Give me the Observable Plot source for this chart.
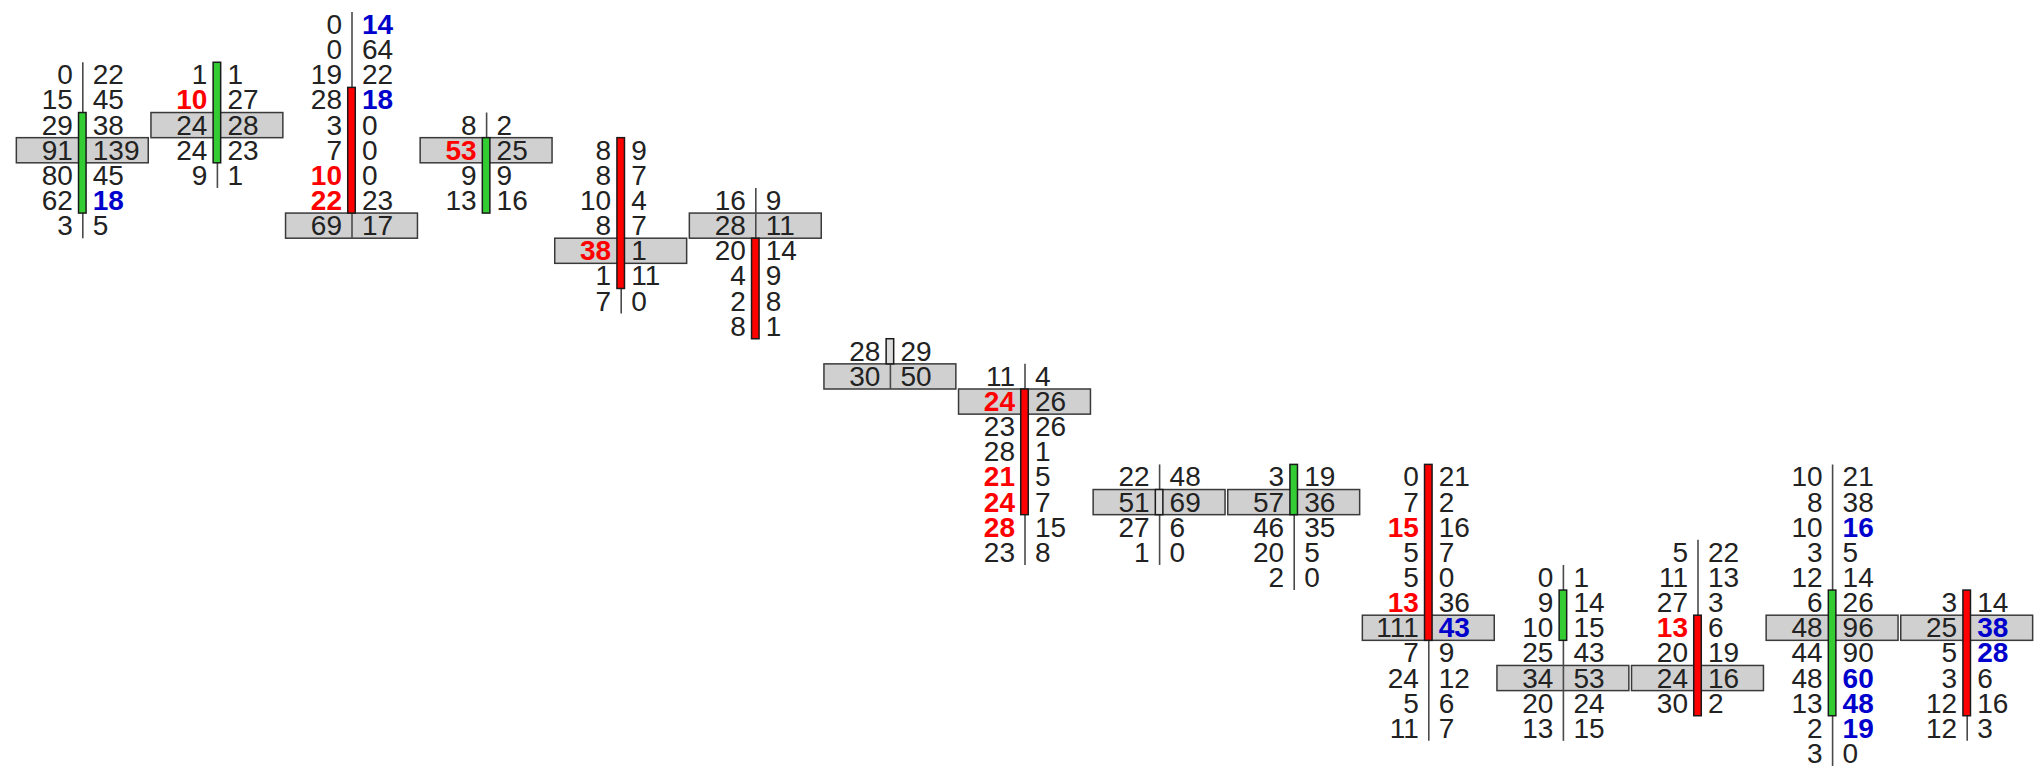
<!DOCTYPE html>
<html>
<head>
<meta charset="utf-8">
<script src="https://cdn.jsdelivr.net/npm/d3@7"></script>
<script src="https://cdn.jsdelivr.net/npm/@observablehq/plot@0.6"></script>
<style>
  html, body { margin: 0; padding: 0; background: #ffffff; }
  #chart svg { display: block; }
</style>
</head>
<body>
<div id="chart"></div>
<script>
// ---- Data (price in ticks, higher = up) ----
const bars = [1, 2, 3, 4, 5, 6, 7, 8, 9, 10, 11, 12, 13, 14, 15];
const highTick  = [27, 27, 29, 25, 24, 22, 16, 15, 11, 11, 11, 7, 8, 11, 6];
const lowTick   = [21, 23, 21, 22, 18, 17, 15, 8, 8, 7, 1, 1, 2, 0, 1];
const openTick  = [22, 24, 26, 22, 24, 20, 16, 14, 10, 10, 11, 5, 5, 2, 6];
const closeTick = [25, 27, 22, 24, 19, 17, 16, 10, 10, 11, 5, 6, 2, 6, 2];
const pocTick   = [24, 25, 21, 24, 20, 21, 15, 14, 10, 10, 5, 3, 3, 5, 5];

// volumes listed from high price down to low price
const bidVolume = [
  [0, 15, 29, 91, 80, 62, 3],
  [1, 10, 24, 24, 9],
  [0, 0, 19, 28, 3, 7, 10, 22, 69],
  [8, 53, 9, 13],
  [8, 8, 10, 8, 38, 1, 7],
  [16, 28, 20, 4, 2, 8],
  [28, 30],
  [11, 24, 23, 28, 21, 24, 28, 23],
  [22, 51, 27, 1],
  [3, 57, 46, 20, 2],
  [0, 7, 15, 5, 5, 13, 111, 7, 24, 5, 11],
  [0, 9, 10, 25, 34, 20, 13],
  [5, 11, 27, 13, 20, 24, 30],
  [10, 8, 10, 3, 12, 6, 48, 44, 48, 13, 2, 3],
  [3, 25, 5, 3, 12, 12]
];
const askVolume = [
  [22, 45, 38, 139, 45, 18, 5],
  [1, 27, 28, 23, 1],
  [14, 64, 22, 18, 0, 0, 0, 23, 17],
  [2, 25, 9, 16],
  [9, 7, 4, 7, 1, 11, 0],
  [9, 11, 14, 9, 8, 1],
  [29, 50],
  [4, 26, 26, 1, 5, 7, 15, 8],
  [48, 69, 6, 0],
  [19, 36, 35, 5, 0],
  [21, 2, 16, 7, 0, 36, 43, 9, 12, 6, 7],
  [1, 14, 15, 43, 53, 24, 15],
  [22, 13, 3, 6, 19, 16, 2],
  [21, 38, 16, 5, 14, 26, 96, 90, 60, 48, 19, 0],
  [14, 38, 28, 6, 16, 3]
];
// imbalance price ticks per bar
const bidImbalance = [[], [26], [23, 22], [24], [20], [], [], [14, 11, 10, 9], [], [], [9, 6], [], [5], [], []];
const askImbalance = [[22], [], [29, 26], [], [], [], [], [], [], [], [5], [], [], [9, 3, 2, 1], [5, 4]];

// ---- Derived tables ----
const candles = bars.map((b, i) => ({
  bar: b, high: highTick[i], low: lowTick[i], open: openTick[i], close: closeTick[i], poc: pocTick[i],
  dir: closeTick[i] > openTick[i] ? "up" : closeTick[i] < openTick[i] ? "down" : "flat"
}));
const cells = [];
bars.forEach((b, i) => {
  bidVolume[i].forEach((v, k) => {
    const p = highTick[i] - k;
    cells.push({
      bar: b, price: p, bid: v, ask: askVolume[i][k],
      bidImb: bidImbalance[i].includes(p), askImb: askImbalance[i].includes(p)
    });
  });
});

const bodyColor = {up: "#33cc33", down: "#ff0000", flat: "#dcdcdc"};
const FONT = "'Liberation Sans', Arial, Helvetica, sans-serif";
const FS = 28;

const chart = Plot.plot({
  width: 2036,
  height: 771,
  marginLeft: 15,
  marginRight: 2,
  marginTop: 12,
  marginBottom: 5,
  x: {type: "linear", domain: [0.5, 15.5], axis: null},
  y: {type: "linear", domain: [-0.5, 29.5], axis: null},
  style: {fontFamily: FONT, background: "#ffffff"},
  marks: [
    // point of control boxes
    Plot.rect(candles, {
      x1: d => d.bar - 0.49, x2: d => d.bar + 0.49,
      y1: d => d.poc - 0.5, y2: d => d.poc + 0.5,
      fill: "#d0d0d0", stroke: "#3a3a3a", strokeWidth: 1.5
    }),
    // wicks
    Plot.ruleX(candles, {
      x: "bar", y1: d => d.low - 0.5, y2: d => d.high + 0.5,
      stroke: "#4a4a4a", strokeWidth: 1.6
    }),
    // bodies
    Plot.rect(candles, {
      x1: d => d.bar - 0.028, x2: d => d.bar + 0.028,
      y1: d => Math.min(d.open, d.close) - 0.5, y2: d => Math.max(d.open, d.close) + 0.5,
      fill: d => bodyColor[d.dir], stroke: "#1a1a1a", strokeWidth: 1.5
    }),
    // bid (left) volumes
    Plot.text(cells.filter(d => !d.bidImb), {
      x: "bar", y: "price", text: "bid", dx: -10, textAnchor: "end",
      fill: "#222222", fontSize: FS
    }),
    Plot.text(cells.filter(d => d.bidImb), {
      x: "bar", y: "price", text: "bid", dx: -10, textAnchor: "end",
      fill: "#ff0000", fontSize: FS, fontWeight: "bold"
    }),
    // ask (right) volumes
    Plot.text(cells.filter(d => !d.askImb), {
      x: "bar", y: "price", text: "ask", dx: 10, textAnchor: "start",
      fill: "#222222", fontSize: FS
    }),
    Plot.text(cells.filter(d => d.askImb), {
      x: "bar", y: "price", text: "ask", dx: 10, textAnchor: "start",
      fill: "#0000cc", fontSize: FS, fontWeight: "bold"
    })
  ]
});
document.getElementById("chart").appendChild(chart);
</script>
</body>
</html>
